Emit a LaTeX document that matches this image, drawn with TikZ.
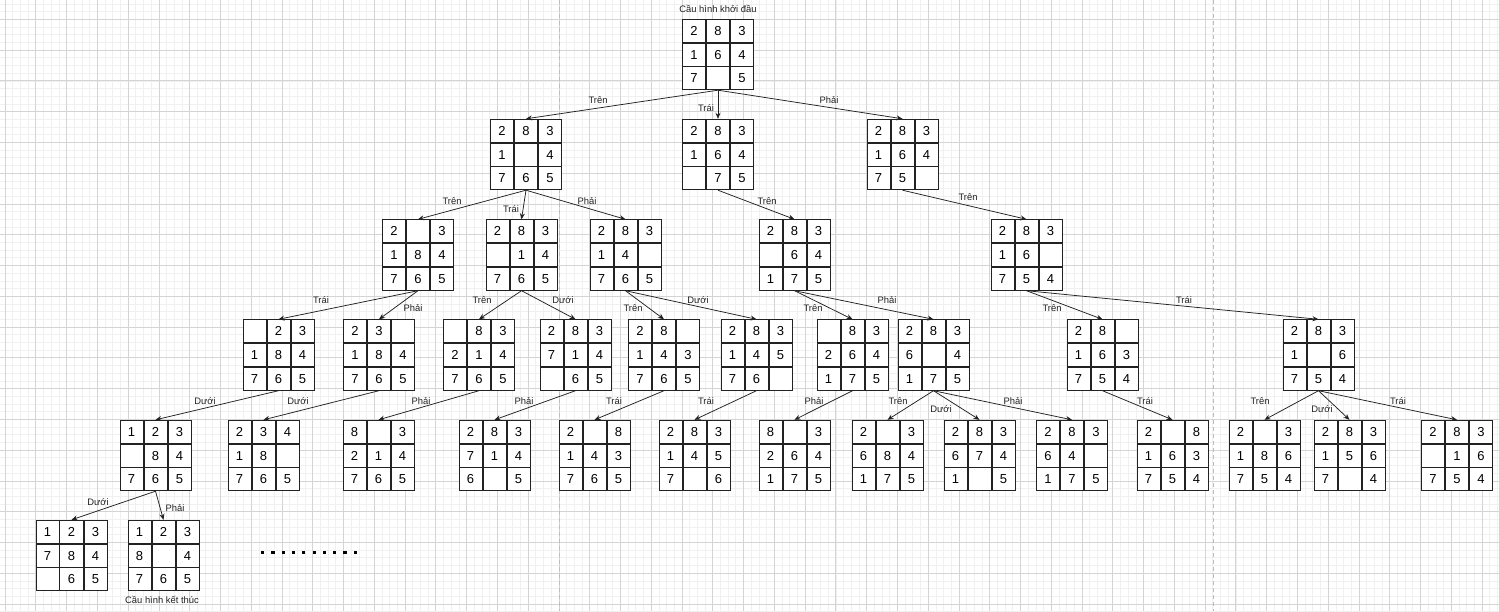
\documentclass[tikz,border=0pt]{standalone}
\usepackage{fontspec}
\setmainfont{Liberation Sans}
\usetikzlibrary{matrix,arrows.meta}
\definecolor{minorg}{HTML}{F0F0F0}
\definecolor{majorg}{HTML}{D4D4D4}
\definecolor{pageg}{HTML}{BDBDBD}
\definecolor{ink}{HTML}{222222}
\tikzset{
  pz/.style={matrix of nodes, nodes in empty cells, ampersand replacement=\&,
    inner sep=0pt, outer sep=0pt, column sep=0pt, row sep=0pt,
    nodes={draw=ink, line width=0.8pt, fill=white, minimum width=23.2pt,
      minimum height=23pt, inner sep=0pt, outer sep=0pt, anchor=center,
      text height=9.3pt, text depth=0pt,
      font=\fontsize{13}{13}\selectfont}},
  edge/.style={draw=ink, line width=0.75pt, -{Stealth[length=6pt,width=5pt]}},
  lbl/.style={font=\fontsize{9.4}{9.4}\selectfont, text=ink, inner sep=0pt},
  minorgrid/.style={draw=minorg, line width=0.6pt},
  majorgrid/.style={draw=majorg, line width=0.7pt},
  pageline/.style={draw=pageg, line width=0.9pt, dash pattern=on 4pt off 3pt},
}
\newcommand\pzl[6]{\matrix[pz] (#1) at (#2,#3) {#4\\#5\\#6\\};}
\begin{document}
\begin{tikzpicture}[x=1pt,y=-1pt]
\useasboundingbox[fill=white] (0,0) rectangle (1499,611);
% grid
\foreach \k in {-1,...,194}{\draw[minorgrid] ({5+\k*7.6925},0) -- ({5+\k*7.6925},611);}
\foreach \k in {-3,...,77}{\draw[minorgrid] (0,{19.3+\k*7.6925}) -- (1499,{19.3+\k*7.6925});}
\foreach \k in {0,...,48}{\draw[majorgrid] ({5+\k*30.77},0) -- ({5+\k*30.77},611);}
\foreach \k in {0,...,19}{\draw[majorgrid] (0,{19.3+\k*30.77}) -- (1499,{19.3+\k*30.77});}
\draw[pageline] (559.5,0) -- (559.5,611);
\draw[pageline] (1213.5,0) -- (1213.5,611);

% level 0
\pzl{r}{718}{54.5}{2\&8\&3}{1\&6\&4}{7\&\&5}
\node[lbl] (title1) at (718,8.5) {Cầu hình khởi đầu};
% level 1
\pzl{a1}{526}{154.5}{2\&8\&3}{1\&\&4}{7\&6\&5}
\pzl{a2}{718}{154.5}{2\&8\&3}{1\&6\&4}{\&7\&5}
\pzl{a3}{902.5}{154.5}{2\&8\&3}{1\&6\&4}{7\&5\&}
% level 2
\pzl{b1}{418}{255}{2\&\&3}{1\&8\&4}{7\&6\&5}
\pzl{b2}{521.5}{255}{2\&8\&3}{\&1\&4}{7\&6\&5}
\pzl{b3}{625.5}{255}{2\&8\&3}{1\&4\&}{7\&6\&5}
\pzl{b4}{794.5}{255}{2\&8\&3}{\&6\&4}{1\&7\&5}
\pzl{b5}{1026.5}{255}{2\&8\&3}{1\&6\&}{7\&5\&4}
% level 3
\pzl{c1}{278.5}{355}{\&2\&3}{1\&8\&4}{7\&6\&5}
\pzl{c2}{379}{355}{2\&3\&}{1\&8\&4}{7\&6\&5}
\pzl{c3}{479}{355}{\&8\&3}{2\&1\&4}{7\&6\&5}
\pzl{c4}{575.5}{355}{2\&8\&3}{7\&1\&4}{\&6\&5}
\pzl{c5}{664}{355}{2\&8\&}{1\&4\&3}{7\&6\&5}
\pzl{c6}{756.5}{355}{2\&8\&3}{1\&4\&5}{7\&6\&}
\pzl{c7}{852.5}{355}{\&8\&3}{2\&6\&4}{1\&7\&5}
\pzl{c8}{933.5}{355}{2\&8\&3}{6\&\&4}{1\&7\&5}
\pzl{c9}{1102.5}{355}{2\&8\&}{1\&6\&3}{7\&5\&4}
\pzl{c10}{1318.5}{355}{2\&8\&3}{1\&\&6}{7\&5\&4}
% level 4
\pzl{d1}{155.5}{455.5}{1\&2\&3}{\&8\&4}{7\&6\&5}
\pzl{d2}{263.5}{455.5}{2\&3\&4}{1\&8\&}{7\&6\&5}
\pzl{d3}{378.5}{455.5}{8\&\&3}{2\&1\&4}{7\&6\&5}
\pzl{d4}{494.5}{455.5}{2\&8\&3}{7\&1\&4}{6\&\&5}
\pzl{d5}{594.5}{455.5}{2\&\&8}{1\&4\&3}{7\&6\&5}
\pzl{d6}{694.5}{455.5}{2\&8\&3}{1\&4\&5}{7\&\&6}
\pzl{d7}{794.5}{455.5}{8\&\&3}{2\&6\&4}{1\&7\&5}
\pzl{d8}{887.5}{455.5}{2\&\&3}{6\&8\&4}{1\&7\&5}
\pzl{d9}{979.5}{455.5}{2\&8\&3}{6\&7\&4}{1\&\&5}
\pzl{d10}{1072}{455.5}{2\&8\&3}{6\&4\&}{1\&7\&5}
\pzl{d11}{1172.5}{455.5}{2\&\&8}{1\&6\&3}{7\&5\&4}
\pzl{d12}{1264.5}{455.5}{2\&\&3}{1\&8\&6}{7\&5\&4}
\pzl{d13}{1349.5}{455.5}{2\&8\&3}{1\&5\&6}{7\&\&4}
\pzl{d14}{1457}{455.5}{2\&8\&3}{\&1\&6}{7\&5\&4}
% level 5
\pzl{e1}{71.5}{555.5}{1\&2\&3}{7\&8\&4}{\&6\&5}
\pzl{e2}{163.5}{555.5}{1\&2\&3}{8\&\&4}{7\&6\&5}
\node[lbl] (title2) at (162,600) {Cầu hình kết thúc};

% edges
\draw[edge] (r.south) -- (a1.north);
\draw[edge] (r.south) -- (a2.north);
\draw[edge] (r.south) -- (a3.north);
\draw[edge] (a1.south) -- (b1.north);
\draw[edge] (a1.south) -- (b2.north);
\draw[edge] (a1.south) -- (b3.north);
\draw[edge] (a2.south) -- (b4.north);
\draw[edge] (a3.south) -- (b5.north);
\draw[edge] (b1.south) -- (c1.north);
\draw[edge] (b1.south) -- (c2.north);
\draw[edge] (b2.south) -- (c3.north);
\draw[edge] (b2.south) -- (c4.north);
\draw[edge] (b3.south) -- (c5.north);
\draw[edge] (b3.south) -- (c6.north);
\draw[edge] (b4.south) -- (c7.north);
\draw[edge] (b4.south) -- (c8.north);
\draw[edge] (b5.south) -- (c9.north);
\draw[edge] (b5.south) -- (c10.north);
\draw[edge] (c1.south) -- (d1.north);
\draw[edge] (c2.south) -- (d2.north);
\draw[edge] (c3.south) -- (d3.north);
\draw[edge] (c4.south) -- (d4.north);
\draw[edge] (c5.south) -- (d5.north);
\draw[edge] (c6.south) -- (d6.north);
\draw[edge] (c7.south) -- (d7.north);
\draw[edge] (c8.south) -- (d8.north);
\draw[edge] (c8.south) -- (d9.north);
\draw[edge] (c8.south) -- (d10.north);
\draw[edge] (c9.south) -- (d11.north);
\draw[edge] (c10.south) -- (d12.north);
\draw[edge] (c10.south) -- (d13.north);
\draw[edge] (c10.south) -- (d14.north);
\draw[edge] (d1.south) -- (e1.north);
\draw[edge] (d1.south) -- (e2.north);

% edge labels
\node[lbl] (l1) at (598,100) {Trên};
\node[lbl] (l2) at (706,108) {Trái};
\node[lbl] (l3) at (829,100) {Phải};
\node[lbl] (l4) at (452,201) {Trên};
\node[lbl] (l5) at (511,209) {Trái};
\node[lbl] (l6) at (587,201) {Phải};
\node[lbl] (l7) at (767,201) {Trên};
\node[lbl] (l8) at (968,197) {Trên};
\node[lbl] (l9) at (321,300) {Trái};
\node[lbl] (l10) at (413,308) {Phải};
\node[lbl] (l11) at (482,300) {Trên};
\node[lbl] (l12) at (563,300) {Dưới};
\node[lbl] (l13) at (633,308) {Trên};
\node[lbl] (l14) at (698,300) {Dưới};
\node[lbl] (l15) at (813,308) {Trên};
\node[lbl] (l16) at (887,300) {Phải};
\node[lbl] (l17) at (1052,308) {Trên};
\node[lbl] (l18) at (1184,300) {Trái};
\node[lbl] (l19) at (205,401) {Dưới};
\node[lbl] (l20) at (298,401) {Dưới};
\node[lbl] (l21) at (421,401) {Phải};
\node[lbl] (l22) at (524,401) {Phải};
\node[lbl] (l23) at (614,401) {Trái};
\node[lbl] (l24) at (706,401) {Trái};
\node[lbl] (l25) at (814,401) {Phải};
\node[lbl] (l26) at (898,401) {Trên};
\node[lbl] (l27) at (941,409) {Dưới};
\node[lbl] (l28) at (1013,401) {Phải};
\node[lbl] (l29) at (1145,401) {Trái};
\node[lbl] (l30) at (1260,401) {Trên};
\node[lbl] (l31) at (1322,409) {Dưới};
\node[lbl] (l32) at (1398,401) {Trái};
\node[lbl] (l33) at (98,502) {Dưới};
\node[lbl] (l34) at (175,508) {Phải};

% dots
\foreach \i in {0,...,9}{\fill[black] ({261+\i*10.3},550.5) rectangle ++(3.2,3.2);}
\end{tikzpicture}
\end{document}
